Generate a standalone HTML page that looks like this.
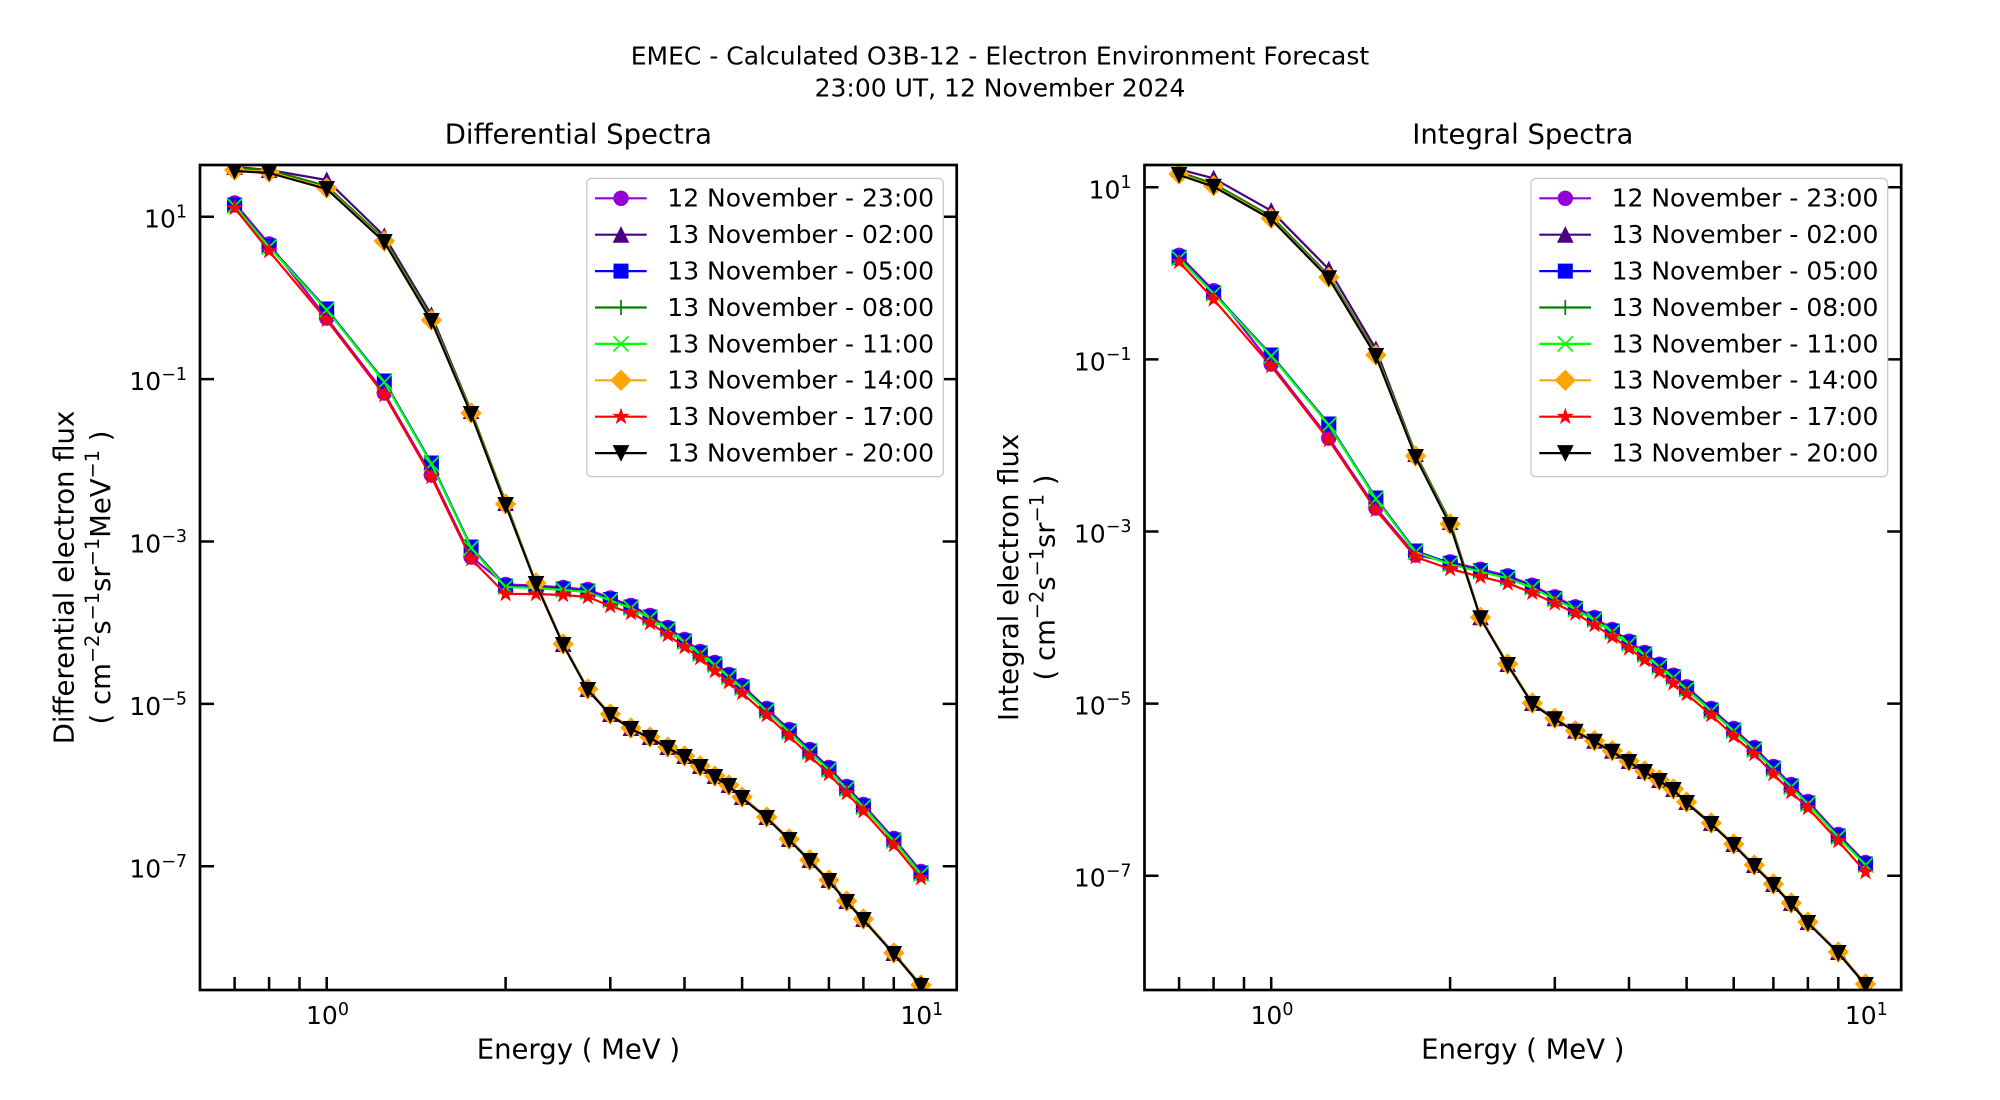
<!DOCTYPE html>
<html><head><meta charset="utf-8">
<style>
html,body{margin:0;padding:0;background:#fff;}
svg{display:block;}
text{font-family:"DejaVu Sans","Liberation Sans",sans-serif;fill:#000;}
</style></head>
<body>
<svg id="fig" width="2000" height="1100" viewBox="0 0 2000 1100" xmlns="http://www.w3.org/2000/svg">
<defs>
 <clipPath id="c1"><rect x="200" y="165" width="756.7" height="825"/></clipPath>
 <clipPath id="c2"><rect x="1144.5" y="165" width="756.7" height="825"/></clipPath>
</defs>
<rect width="2000" height="1100" fill="#fff"/>

<!-- Suptitle -->
<text x="1000" y="64.3" font-size="25" text-anchor="middle">EMEC - Calculated O3B-12 - Electron Environment Forecast</text>
<text x="1000" y="96.7" font-size="25" text-anchor="middle">23:00 UT, 12 November 2024</text>

<!-- Subplot titles -->
<text x="578.4" y="143.3" font-size="27.5" text-anchor="middle">Differential Spectra</text>
<text x="1522.8" y="143.3" font-size="27.5" text-anchor="middle">Integral Spectra</text>

<!-- data -->
<g id="d1" clip-path="url(#c1)"></g>
<g id="d2" clip-path="url(#c2)"></g>

<!-- frames -->
<rect x="200" y="165" width="756.7" height="825" fill="none" stroke="#000" stroke-width="2.7"/>
<rect x="1144.5" y="165" width="756.7" height="825" fill="none" stroke="#000" stroke-width="2.7"/>

<!-- ticks -->
<g id="ticks" stroke="#000" stroke-width="2.5" fill="none"></g>

<!-- Y tick labels left -->
<g font-size="25" text-anchor="end">
 <text x="187" y="227.7">10<tspan font-size="17.5" dy="-10.3">1</tspan></text>
 <text x="187" y="390.1">10<tspan font-size="17.5" dy="-10.3">−1</tspan></text>
 <text x="187" y="552.5">10<tspan font-size="17.5" dy="-10.3">−3</tspan></text>
 <text x="187" y="714.9">10<tspan font-size="17.5" dy="-10.3">−5</tspan></text>
 <text x="187" y="877.3">10<tspan font-size="17.5" dy="-10.3">−7</tspan></text>
</g>
<!-- Y tick labels right -->
<g font-size="25" text-anchor="end">
 <text x="1131.5" y="198.3">10<tspan font-size="17.5" dy="-10.3">1</tspan></text>
 <text x="1131.5" y="370.4">10<tspan font-size="17.5" dy="-10.3">−1</tspan></text>
 <text x="1131.5" y="542.5">10<tspan font-size="17.5" dy="-10.3">−3</tspan></text>
 <text x="1131.5" y="714.6">10<tspan font-size="17.5" dy="-10.3">−5</tspan></text>
 <text x="1131.5" y="886.7">10<tspan font-size="17.5" dy="-10.3">−7</tspan></text>
</g>
<!-- X tick labels -->
<g font-size="25" text-anchor="middle">
 <text x="327.5" y="1024">10<tspan font-size="17.5" dy="-9">0</tspan></text>
 <text x="921.8" y="1024">10<tspan font-size="17.5" dy="-9">1</tspan></text>
 <text x="1272" y="1024">10<tspan font-size="17.5" dy="-9">0</tspan></text>
 <text x="1866.3" y="1024">10<tspan font-size="17.5" dy="-9">1</tspan></text>
</g>

<!-- X axis labels -->
<text x="578.4" y="1058.3" font-size="27.5" text-anchor="middle">Energy ( MeV )</text>
<text x="1522.8" y="1058.3" font-size="27.5" text-anchor="middle">Energy ( MeV )</text>

<!-- Y axis labels -->
<text transform="translate(73.3,577.5) rotate(-90)" font-size="27.5" text-anchor="middle">Differential electron flux</text>
<text transform="translate(110,577.5) rotate(-90)" font-size="27.5" text-anchor="middle">( cm<tspan font-size="19.25" dy="-11">−2</tspan><tspan dy="11">s</tspan><tspan font-size="19.25" dy="-11">−1</tspan><tspan dy="11">sr</tspan><tspan font-size="19.25" dy="-11">−1</tspan><tspan dy="11">MeV</tspan><tspan font-size="19.25" dy="-11">−1</tspan><tspan dy="11"> )</tspan></text>
<text transform="translate(1017.8,577.5) rotate(-90)" font-size="27.5" text-anchor="middle">Integral electron flux</text>
<text transform="translate(1054.5,577.5) rotate(-90)" font-size="27.5" text-anchor="middle">( cm<tspan font-size="19.25" dy="-11">−2</tspan><tspan dy="11">s</tspan><tspan font-size="19.25" dy="-11">−1</tspan><tspan dy="11">sr</tspan><tspan font-size="19.25" dy="-11">−1</tspan><tspan dy="11"> )</tspan></text>

<!-- Legends -->
<rect x="586.7" y="178.3" width="356.6" height="298.4" rx="5" fill="#fff" fill-opacity="0.8" stroke="#cccccc" stroke-width="1.4"/>
<rect x="1531" y="178.3" width="356.6" height="298.4" rx="5" fill="#fff" fill-opacity="0.8" stroke="#cccccc" stroke-width="1.4"/>
<g id="leg"></g>
<g font-size="25">
 <text x="667.3" y="206.7">12 November - 23:00</text>
 <text x="667.3" y="243.1">13 November - 02:00</text>
 <text x="667.3" y="279.5">13 November - 05:00</text>
 <text x="667.3" y="315.9">13 November - 08:00</text>
 <text x="667.3" y="352.3">13 November - 11:00</text>
 <text x="667.3" y="388.7">13 November - 14:00</text>
 <text x="667.3" y="425.1">13 November - 17:00</text>
 <text x="667.3" y="461.5">13 November - 20:00</text>
 <text x="1611.6" y="206.7">12 November - 23:00</text>
 <text x="1611.6" y="243.1">13 November - 02:00</text>
 <text x="1611.6" y="279.5">13 November - 05:00</text>
 <text x="1611.6" y="315.9">13 November - 08:00</text>
 <text x="1611.6" y="352.3">13 November - 11:00</text>
 <text x="1611.6" y="388.7">13 November - 14:00</text>
 <text x="1611.6" y="425.1">13 November - 17:00</text>
 <text x="1611.6" y="461.5">13 November - 20:00</text>
</g>
</svg>
<script>
(function(){
const E=[0.7,0.8,1.0,1.25,1.5,1.75,2.0,2.25,2.5,2.75,3.0,3.25,3.5,3.75,4.0,4.25,4.5,4.75,5.0,5.5,6.0,6.5,7.0,7.5,8.0,9.0,10.0];
const D=594.3;
const SER=[
 {c:'#9400D3',m:'o'},{c:'#4B0082',m:'^'},{c:'#0000FF',m:'s'},{c:'#008000',m:'+'},
 {c:'#00FF00',m:'x'},{c:'#FFA500',m:'D'},{c:'#FF0000',m:'*'},{c:'#000000',m:'v'}];
function f(v){return v.toFixed(1);}
function mk(m,x,y,c){
 const r=7.5;
 switch(m){
  case 'o': return `<circle cx="${f(x)}" cy="${f(y)}" r="7.2" fill="${c}" stroke="${c}" stroke-width="1"/>`;
  case '^': return `<polygon points="${f(x)},${f(y-r)} ${f(x-r)},${f(y+r)} ${f(x+r)},${f(y+r)}" fill="${c}" stroke="${c}" stroke-width="1"/>`;
  case 'v': return `<polygon points="${f(x)},${f(y+r)} ${f(x-r)},${f(y-r)} ${f(x+r)},${f(y-r)}" fill="${c}" stroke="${c}" stroke-width="1"/>`;
  case 's': return `<rect x="${f(x-7)}" y="${f(y-7)}" width="14" height="14" fill="${c}" stroke="${c}" stroke-width="1"/>`;
  case 'D': return `<polygon points="${f(x)},${f(y-10)} ${f(x+10)},${f(y)} ${f(x)},${f(y+10)} ${f(x-10)},${f(y)}" fill="${c}" stroke="${c}" stroke-width="1"/>`;
  case '+': return `<path d="M${f(x-r)} ${f(y)}H${f(x+r)}M${f(x)} ${f(y-r)}V${f(y+r)}" stroke="${c}" stroke-width="1.7" fill="none"/>`;
  case 'x': return `<path d="M${f(x-r)} ${f(y-r)}L${f(x+r)} ${f(y+r)}M${f(x-r)} ${f(y+r)}L${f(x+r)} ${f(y-r)}" stroke="${c}" stroke-width="1.7" fill="none"/>`;
  case '*': {
   let p=[];
   for(let k=0;k<10;k++){const a=(-90+36*k)*Math.PI/180;const rr=k%2?r*0.382:r;p.push(f(x+rr*Math.cos(a))+','+f(y+rr*Math.sin(a)));}
   return `<polygon points="${p.join(' ')}" fill="${c}" stroke="${c}" stroke-width="1"/>`;
  }
 }
 return '';
}
const P=[
 {x0:326.7,g:'d1',
  B:[205,246,309,381,463,547,586,587,589,591,599.5,607,617,629,641,653,664,676,687,710,731,751,769,788,806,840,873],
  R:[208,251,320,395,477,559,594,594,595,597,606,613,623,635,647,658,671,682,693,715,736,756,774,793,811,845,878],
  K:[171,173,189,242,321,414,505,584,645,690,715,729,738,748,757,767,777,786,798,818,840,861,881,902,920,954,986],
  I:[167,170,180,236,315,411,503]},
 {x0:1271.2,g:'d2',
  B:[257.3,292.7,355,424,498,551,563.3,570.7,577.3,586.7,598.3,608.3,619,631,642.7,654,665.7,676.7,688.3,710,730,749,768,786,803,836,864],
  R:[261.7,299.3,366,440,510,557,569,576.7,583.3,592.7,603.3,613.3,625,636.7,648.3,660,671.7,683.3,694,715,736,754,774,792,808,841,872],
  K:[175,186.7,219.3,278.3,356,457,525,618.3,665,704,719.3,731.7,741.7,751.7,762,772,781,790,803,824,845,866,885,904,923,953,985],
  I:[169.3,178.3,210.7,269.3,349,454,522]}
];
P.forEach(p=>{
 const B=p.B,R=p.R,K=p.K,I=p.I;
 const purple=B.map((b,i)=> i<2? b-2 : (i<6 ? R[i]-2 : b-1.5));
 const indigo=K.map((k,i)=> i<I.length? I[i] : k-1);
 const green=K.map((k,i)=> i<7? k-3 : k-0.8);
 const lime=B.map(b=>b+1);
 const orange=K.map(k=>k-1);
 const ys=[purple,indigo,B,green,lime,orange,R,K];
 let s='';
 ys.forEach((Y,si)=>{
  const c=SER[si].c,m=SER[si].m;
  const pts=E.map((e,i)=>[p.x0+D*Math.log10(e),Y[i]]);
  s+=`<polyline points="${pts.map(q=>f(q[0])+','+f(q[1])).join(' ')}" fill="none" stroke="${c}" stroke-width="2.2" stroke-linejoin="round"/>`;
  pts.forEach(q=>{s+=mk(m,q[0],q[1],c);});
 });
 document.getElementById(p.g).innerHTML=s;
});
// ticks
let t='';
const XT=[0.7,0.8,0.9,1,2,3,4,5,6,7,8,9,10];
[[326.7,200,956.7,[216.7,379.1,541.5,703.9,866.3]],[1271.2,1144.5,1901.2,[187.3,359.4,531.5,703.6,875.7]]].forEach(a=>{
 XT.forEach(e=>{const x=a[0]+D*Math.log10(e);t+=`M${f(x)} 990V977`;});
 a[3].forEach(y=>{t+=`M${a[1]} ${f(y)}H${a[1]+14}M${a[2]} ${f(y)}H${f(a[2]-14)}`;});
});
document.getElementById('ticks').innerHTML=`<path d="${t}"/>`;
// legend handles
let l='';
[586.7,1531].forEach(lx=>{
 SER.forEach((s,i)=>{
  const y=198.3+36.4*i;
  l+=`<line x1="${f(lx+8.3)}" y1="${f(y)}" x2="${f(lx+60)}" y2="${f(y)}" stroke="${s.c}" stroke-width="2.2"/>`;
  l+=mk(s.m,lx+34.3,y,s.c);
 });
});
document.getElementById('leg').innerHTML=l;
})();
</script>
</body></html>
